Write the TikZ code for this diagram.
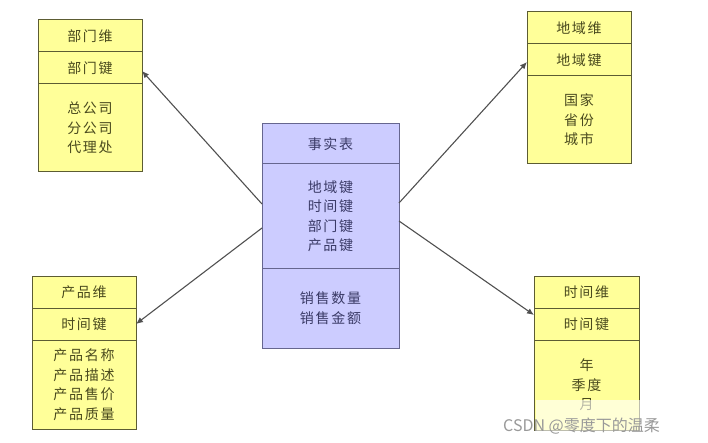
\documentclass[tikz,border=0pt]{standalone}
\usepackage{fontspec}
\setmainfont{Noto Sans CJK SC}
\newfontfamily\cellfont[LetterSpace=12]{Noto Sans CJK SC}
\usetikzlibrary{arrows.meta}
\definecolor{yfill}{HTML}{FFFF99}
\definecolor{ydraw}{HTML}{5C5C33}
\definecolor{ytext}{HTML}{4A4A1E}
\definecolor{bfill}{HTML}{CCCCFF}
\definecolor{bdraw}{HTML}{66668F}
\definecolor{btext}{HTML}{3A3A66}
\definecolor{arrcol}{HTML}{505050}
\tikzset{
  cell/.style={draw, line width=1pt, inner sep=0pt, outer sep=0pt, anchor=north west, align=center,
    font=\cellfont\fontsize{14}{19.5}\selectfont},
  ycell/.style={cell, fill=yfill, draw=ydraw, text=ytext},
  bcell/.style={cell, fill=bfill, draw=bdraw, text=btext},
  arr/.style={draw=arrcol, line width=1.1pt, -{Latex[length=7pt,width=6pt]}},
}
\begin{document}
\begin{tikzpicture}[x=1pt,y=-1pt]
\useasboundingbox (0,0) rectangle (708,443);
% top-left: department dimension
\node[ycell, minimum width=104pt, minimum height=32pt] (tlt) at (38,20) {部门维};
\node[ycell, minimum width=104pt, minimum height=32pt] (tlk) at (38,52) {部门键};
\node[ycell, minimum width=104pt, minimum height=88pt] (tla) at (38,84) {总公司\\分公司\\代理处};
% top-right: region dimension
\node[ycell, minimum width=104pt, minimum height=32pt] (trt) at (527,12) {地域维};
\node[ycell, minimum width=104pt, minimum height=32pt] (trk) at (527,44) {地域键};
\node[ycell, minimum width=104pt, minimum height=88pt] (tra) at (527,76) {国家\\省份\\城市};
% center: fact table
\node[bcell, minimum width=137pt, minimum height=40pt] (ct) at (262,124) {事实表};
\node[bcell, minimum width=137pt, minimum height=104pt] (ck) at (262,164) {地域键\\时间键\\部门键\\产品键};
\node[bcell, minimum width=137pt, minimum height=80pt] (cs) at (262,268) {销售数量\\销售金额};
% bottom-left: product dimension
\node[ycell, minimum width=104pt, minimum height=32pt] (blt) at (32,276) {产品维};
\node[ycell, minimum width=104pt, minimum height=32pt] (blk) at (32,308) {时间键};
\node[ycell, minimum width=104pt, minimum height=89pt] (bla) at (32,340) {产品名称\\产品描述\\产品售价\\产品质量};
% bottom-right: time dimension
\node[ycell, minimum width=105pt, minimum height=32pt] (brt) at (534,276) {时间维};
\node[ycell, minimum width=105pt, minimum height=32pt] (brk) at (534,308) {时间键};
\node[ycell, minimum width=105pt, minimum height=90pt] (bra) at (534,340) {\raisebox{9pt}{\parbox{60pt}{\centering 年\\季度\\月}}};
% connectors
\draw[arr] ([yshift=12pt]ck.west) -- ([yshift=-3pt]tlk.east);
\draw[arr] ([yshift=13pt]ck.east) -- ([yshift=-2pt]trk.west);
\draw[arr] ([yshift=-12pt]ck.west) -- (blk.east);
\draw[arr] ([yshift=-5pt]ck.east) -- ([yshift=9pt]brk.west);
% watermark
\fill[white, opacity=0.6] (536,400) rectangle (640,432);
\node[anchor=west, inner sep=0pt, text=gray!80, font=\fontsize{16}{16}\selectfont] (wm) at (503,426) {CSDN @零度下的温柔};
\end{tikzpicture}
\end{document}
